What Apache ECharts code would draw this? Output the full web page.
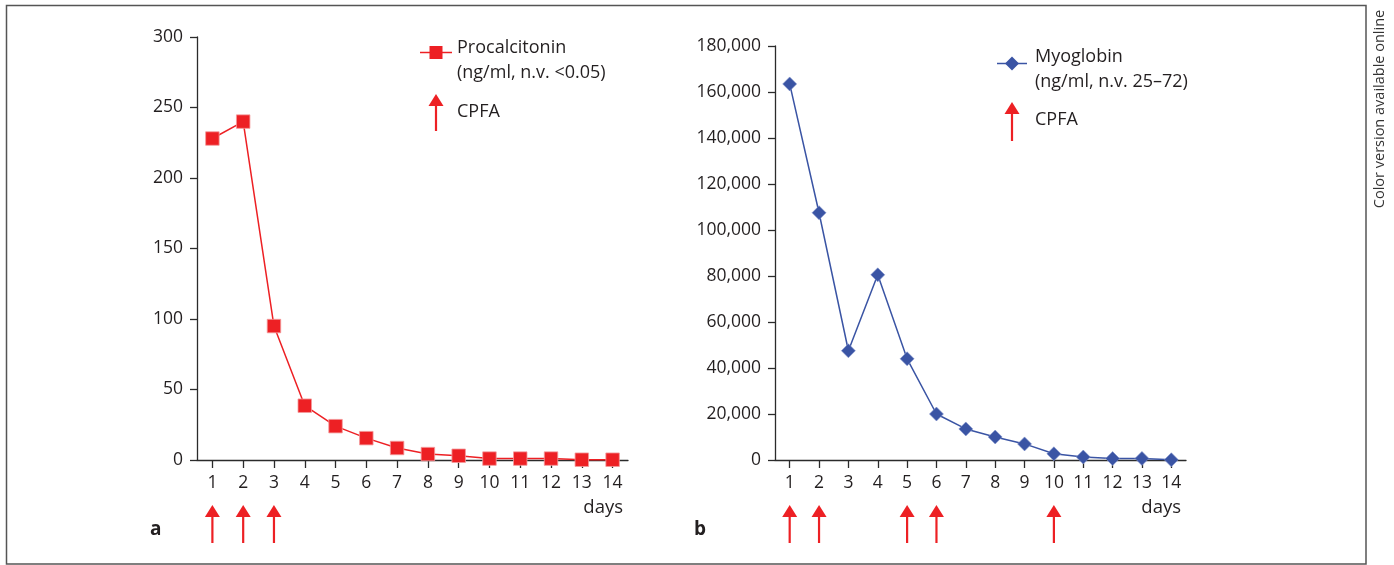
<!DOCTYPE html>
<html>
<head>
<meta charset="utf-8">
<script src="https://cdn.jsdelivr.net/npm/echarts@6/dist/echarts.min.js"></script>
<style>
html,body{margin:0;padding:0;background:#fff;}
#chart{width:1394px;height:565px;}
</style>
</head>
<body>
<div id="chart"></div>
<script>
// ---- data ----
const days = ['1','2','3','4','5','6','7','8','9','10','11','12','13','14'];
const procalcitonin = [228, 240, 95, 38.5, 24, 15.5, 8.5, 4.2, 3, 1, 1, 1, 0.2, 0.2];
const myoglobin = [163500, 107500, 47500, 80500, 44000, 20000, 13500, 10000, 7000, 2700, 1300, 600, 700, 100];
const cpfaA = ['1','2','3'];
const cpfaB = ['1','2','5','6','10'];
const yTicksA = {min: 0, max: 300, interval: 50};
const yTicksB = {min: 0, max: 180000, interval: 20000};

// ---- styles ----
const FONT = '"Open Sans", "Noto Sans", sans-serif';
const TXT = '#231f20';
const RED = '#ed2024';
const BLUE = '#3a54a4';
const AX = '#2b2b2b';

const chart = echarts.init(document.getElementById('chart'), null, {renderer: 'canvas'});

function valueAxis(idx, t, fmt) {
  return {
    type: 'value', gridIndex: idx, min: t.min, max: t.max, interval: t.interval,
    axisLine: {show: true, lineStyle: {color: AX, width: 1.3}},
    axisTick: {show: true, inside: false, length: 7, lineStyle: {color: AX, width: 1.3}},
    splitLine: {show: false},
    axisLabel: {margin: 14, fontFamily: FONT, fontSize: 17.5, color: TXT, formatter: fmt}
  };
}
function catAxis(idx) {
  return {
    type: 'category', gridIndex: idx, data: days, boundaryGap: true,
    axisLine: {show: true, onZero: false, lineStyle: {color: AX, width: 1.3}},
    axisTick: {show: true, alignWithLabel: true, length: 8, lineStyle: {color: AX, width: 1.3}},
    axisLabel: {margin: 14, fontFamily: FONT, fontSize: 17.5, color: TXT, interval: 0}
  };
}
function hiddenCat(idx) {
  return {type: 'category', gridIndex: idx, data: days, boundaryGap: true, show: false};
}
function hiddenVal(idx) {
  return {type: 'value', gridIndex: idx, min: 0, max: 1, show: false};
}
function arrowShape(cx, top, bottom, color) {
  const hw = 7.5, hh = 12, sw = 1.1;
  return [
    {type: 'rect', shape: {x: cx - sw, y: top + hh - 1, width: sw * 2, height: bottom - top - hh + 1}, style: {fill: color}},
    {type: 'polygon', shape: {points: [[cx, top], [cx + hw, top + hh], [cx - hw, top + hh]]}, style: {fill: color}}
  ];
}
function arrowSeries(xi, yi, data) {
  return {
    type: 'custom', name: 'CPFA', xAxisIndex: xi, yAxisIndex: yi,
    data: data.map(d => [d, 1]),
    renderItem: function (params, api) {
      const top = api.coord([api.value(0), 1]);
      const bot = api.coord([api.value(0), 0]);
      return {type: 'group', children: arrowShape(top[0], top[1], bot[1], RED)};
    },
    silent: true
  };
}

const fmtComma = v => v.toLocaleString('en-US');

const option = {
  backgroundColor: '#fff',
  animation: false,
  grid: [
    {left: 197, top: 37, width: 431, height: 423},
    {left: 775, top: 46, width: 411, height: 414},
    {left: 197, top: 505, width: 431, height: 38},
    {left: 775, top: 505, width: 411, height: 38}
  ],
  xAxis: [catAxis(0), catAxis(1), hiddenCat(2), hiddenCat(3)],
  yAxis: [valueAxis(0, yTicksA), valueAxis(1, yTicksB, fmtComma), hiddenVal(2), hiddenVal(3)],
  series: [
    {
      type: 'line', name: 'Procalcitonin', xAxisIndex: 0, yAxisIndex: 0, data: procalcitonin,
      symbol: 'rect', symbolSize: 13.5, showAllSymbol: true, clip: false,
      lineStyle: {color: RED, width: 1.5},
      itemStyle: {color: RED, borderColor: '#f49a9c', borderWidth: 0.8}
    },
    {
      type: 'line', name: 'Myoglobin', xAxisIndex: 1, yAxisIndex: 1, data: myoglobin,
      symbol: 'diamond', symbolSize: 14, showAllSymbol: true, clip: false,
      lineStyle: {color: BLUE, width: 1.5},
      itemStyle: {color: BLUE, borderColor: '#8596cc', borderWidth: 0.6}
    },
    arrowSeries(2, 2, cpfaA),
    arrowSeries(3, 3, cpfaB)
  ],
  graphic: [
    // frame
    {type: 'rect', shape: {x: 6.5, y: 5.5, width: 1359.5, height: 558.5}, style: {fill: 'none', stroke: '#555', lineWidth: 1.5}, silent: true},
    // vertical note
    {type: 'text', x: 1380, y: 109, rotation: Math.PI / 2,
     style: {text: 'Color version available online', fontFamily: FONT, fontSize: 14.5, fill: '#333', align: 'center', verticalAlign: 'middle'}},
    // panel letters
    {type: 'text', x: 150, y: 530, style: {text: 'a', fontFamily: FONT, fontSize: 19, fontWeight: 'bold', fill: TXT, verticalAlign: 'middle'}},
    {type: 'text', x: 694, y: 530, style: {text: 'b', fontFamily: FONT, fontSize: 19, fontWeight: 'bold', fill: TXT, verticalAlign: 'middle'}},
    // days labels
    {type: 'text', x: 623, y: 508, style: {text: 'days', fontFamily: FONT, fontSize: 18.5, fill: TXT, align: 'right', verticalAlign: 'middle'}},
    {type: 'text', x: 1181, y: 508, style: {text: 'days', fontFamily: FONT, fontSize: 18.5, fill: TXT, align: 'right', verticalAlign: 'middle'}},
    // legend a
    {type: 'line', shape: {x1: 420, y1: 52.5, x2: 452, y2: 52.5}, style: {stroke: RED, lineWidth: 1.5}},
    {type: 'rect', shape: {x: 429.5, y: 46, width: 13, height: 13}, style: {fill: RED}},
    {type: 'text', x: 457, y: 48, style: {text: 'Procalcitonin', fontFamily: FONT, fontSize: 18, fill: TXT, verticalAlign: 'middle'}},
    {type: 'text', x: 457, y: 73, style: {text: '(ng/ml, n.v. <0.05)', fontFamily: FONT, fontSize: 18, fill: TXT, verticalAlign: 'middle'}},
    {type: 'group', children: arrowShape(436, 94, 131, RED)},
    {type: 'text', x: 457, y: 112, style: {text: 'CPFA', fontFamily: FONT, fontSize: 18, fill: TXT, verticalAlign: 'middle'}},
    // legend b
    {type: 'line', shape: {x1: 997, y1: 63.5, x2: 1027, y2: 63.5}, style: {stroke: BLUE, lineWidth: 1.5}},
    {type: 'polygon', shape: {points: [[1012, 56.5], [1019, 63.5], [1012, 70.5], [1005, 63.5]]}, style: {fill: BLUE}},
    {type: 'text', x: 1035, y: 57, style: {text: 'Myoglobin', fontFamily: FONT, fontSize: 18, fill: TXT, verticalAlign: 'middle'}},
    {type: 'text', x: 1035, y: 82, style: {text: '(ng/ml, n.v. 25–72)', fontFamily: FONT, fontSize: 18, fill: TXT, verticalAlign: 'middle'}},
    {type: 'group', children: arrowShape(1012, 102, 141, RED)},
    {type: 'text', x: 1035, y: 120, style: {text: 'CPFA', fontFamily: FONT, fontSize: 18, fill: TXT, verticalAlign: 'middle'}}
  ]
};
chart.setOption(option);
</script>
</body>
</html>
